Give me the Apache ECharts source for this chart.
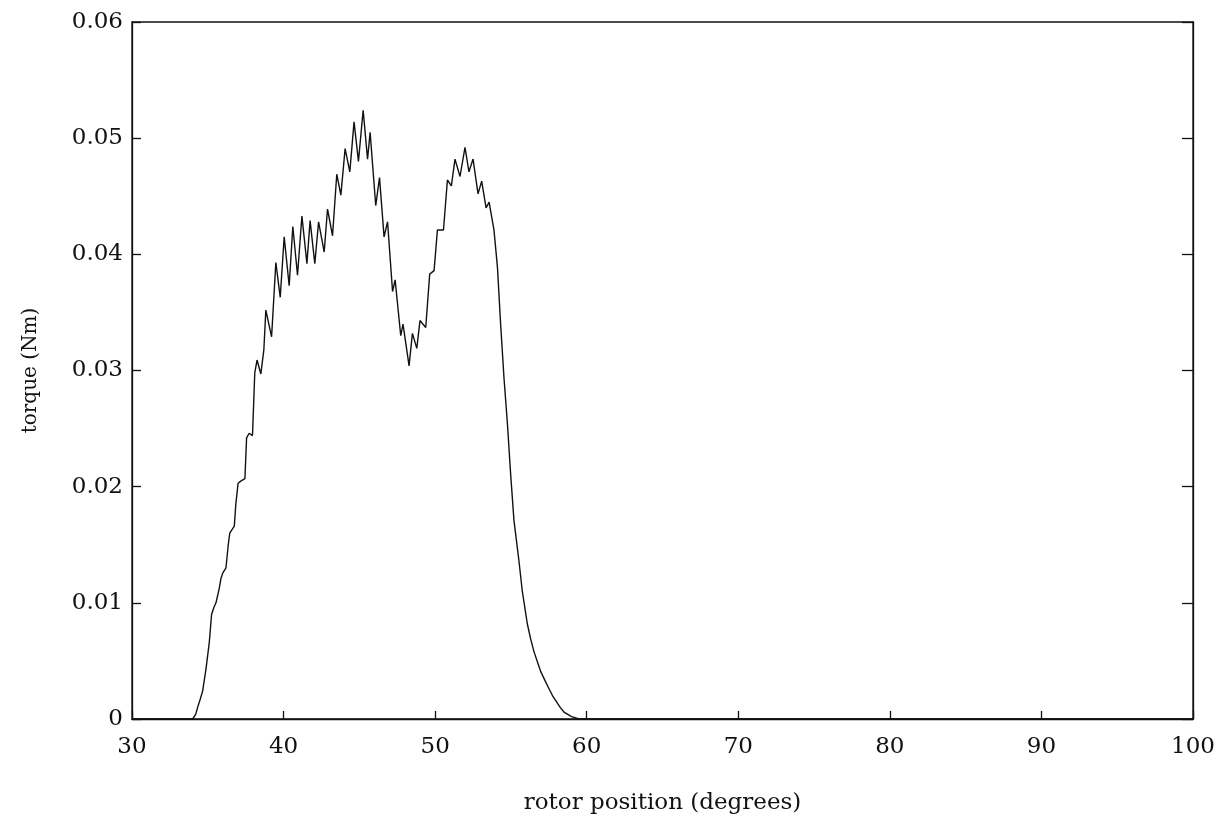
<!DOCTYPE html>
<html>
<head>
<meta charset="utf-8">
<script src="https://cdn.jsdelivr.net/npm/echarts@6/dist/echarts.min.js"></script>
<style>html,body{margin:0;padding:0;background:#fff;}#c{width:1224px;height:830px;}</style>
</head>
<body>
<div id="c"></div>
<script>
const positions = [30,34.0,34.2,34.33,34.5,34.66,34.88,35.1,35.25,35.4,35.54,35.75,35.87,36.0,36.2,36.35,36.45,36.6,36.75,36.85,37.0,37.2,37.45,37.56,37.73,37.95,38.1,38.25,38.5,38.7,38.83,39.21,39.49,39.78,40.04,40.37,40.61,40.92,41.21,41.54,41.75,42.06,42.31,42.68,42.90,43.23,43.51,43.78,44.06,44.37,44.65,44.94,45.25,45.54,45.71,46.08,46.33,46.63,46.86,47.19,47.36,47.73,47.88,48.28,48.50,48.79,49.0,49.38,49.64,49.93,50.15,50.55,50.81,51.07,51.31,51.64,51.97,52.23,52.50,52.83,53.07,53.36,53.56,53.88,54.11,54.32,54.54,54.77,54.98,55.2,55.53,55.75,56.08,56.3,56.52,56.75,56.96,57.25,57.51,57.75,58.0,58.25,58.5,58.75,59.0,59.5,100];
const torque = [0,0,0.0004,0.001,0.0017,0.0024,0.0043,0.0066,0.009,0.0096,0.0100,0.0112,0.0121,0.0126,0.0130,0.0150,0.0160,0.0163,0.0166,0.0185,0.0203,0.0205,0.0207,0.0242,0.0246,0.0244,0.0298,0.0309,0.0297,0.0318,0.0352,0.0329,0.0393,0.0363,0.0415,0.0373,0.0424,0.0382,0.0433,0.0392,0.0429,0.0392,0.0428,0.0402,0.0439,0.0416,0.0469,0.0451,0.0491,0.0471,0.0514,0.0480,0.0524,0.0482,0.0505,0.0442,0.0466,0.0415,0.0428,0.0368,0.0378,0.0330,0.0340,0.0304,0.0332,0.0319,0.0343,0.0337,0.0383,0.0386,0.0421,0.0421,0.0464,0.0459,0.0482,0.0467,0.0492,0.0471,0.0482,0.0452,0.0463,0.0440,0.0445,0.0421,0.0389,0.0340,0.0294,0.0254,0.0211,0.0171,0.0136,0.0110,0.0082,0.0069,0.0058,0.0049,0.0041,0.0033,0.0026,0.0020,0.0015,0.0010,0.0006,0.0004,0.0002,0,0];
const xTitle = 'rotor position (degrees)';
const yTitle = 'torque (Nm)';

const font = 'DejaVu Serif';
const chart = echarts.init(document.getElementById('c'), null, {renderer: 'canvas'});
chart.setOption({
  animation: false,
  backgroundColor: '#fff',
  grid: {left: 132, right: 31, top: 22, bottom: 111, show: true, borderColor: '#111', borderWidth: 1.3, backgroundColor: 'transparent'},
  xAxis: {
    type: 'value', min: 30, max: 100, interval: 10,
    name: xTitle, nameLocation: 'middle', nameGap: 73,
    nameTextStyle: {fontFamily: font, fontSize: 23, color: '#111'},
    axisLine: {show: true, lineStyle: {color: '#111', width: 1.3}},
    axisTick: {show: true, inside: true, length: 8, lineStyle: {color: '#111', width: 1.3}},
    axisLabel: {fontFamily: font, fontSize: 23, color: '#111', margin: 17},
    splitLine: {show: false}
  },
  yAxis: [{
    type: 'value', min: 0, max: 0.06, interval: 0.01,
    name: yTitle, nameLocation: 'middle', nameGap: 91, nameRotate: 90,
    nameTextStyle: {fontFamily: font, fontSize: 20, color: '#111'},
    axisLine: {show: true, lineStyle: {color: '#111', width: 1.3}},
    axisTick: {show: true, inside: true, length: 9, lineStyle: {color: '#111', width: 1.3}},
    axisLabel: {fontFamily: font, fontSize: 23, color: '#111', margin: 9,
      formatter: v => v === 0 ? '0' : v.toFixed(2)},
    splitLine: {show: false}
  }, {
    type: 'value', min: 0, max: 0.06, interval: 0.01, position: 'right',
    axisLine: {show: true, lineStyle: {color: '#111', width: 1.3}},
    axisTick: {show: true, inside: true, length: 11, lineStyle: {color: '#111', width: 1.3}},
    axisLabel: {show: false},
    splitLine: {show: false}
  }],
  series: [{
    type: 'line',
    data: positions.map((p, i) => [p, torque[i]]),
    showSymbol: false,
    smooth: false,
    lineStyle: {color: '#111', width: 1.4},
    silent: true
  }]
});
</script>
</body>
</html>
